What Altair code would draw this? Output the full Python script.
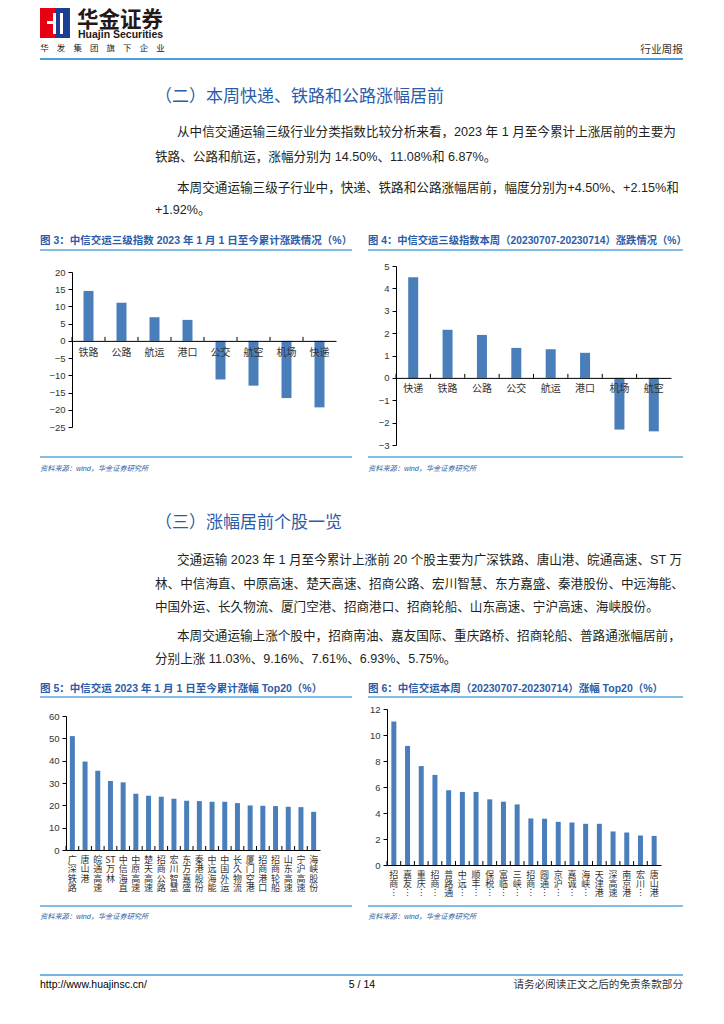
import altair as alt
import pandas as pd

# ---------------- data ----------------
cat3 = ['铁路', '公路', '航运', '港口', '公交', '航空', '机场', '快递']
val3 = [14.50, 11.08, 6.87, 6.10, -11.20, -13.00, -16.60, -19.30]

cat4 = ['快递', '铁路', '公路', '公交', '航运', '港口', '机场', '航空']
val4 = [4.50, 2.15, 1.92, 1.34, 1.28, 1.12, -2.31, -2.39]

names5 = ['广深铁路', '唐山港', '皖通高速', 'ST万林', '中信海直', '中原高速', '楚天高速',
          '招商公路', '宏川智慧', '东方嘉盛', '秦港股份', '中远海能', '中国外运', '长久物流',
          '厦门空港', '招商港口', '招商轮船', '山东高速', '宁沪高速', '海峡股份']
val5 = [51.0, 39.6, 35.5, 30.9, 30.3, 25.2, 24.3, 23.85, 22.95, 22.05, 21.9, 21.6, 21.6,
        21.0, 19.95, 19.8, 19.65, 19.35, 19.2, 17.1]

names6 = ['招商南油', '嘉友国际', '重庆路桥', '招商轮船', '普路通', '中远海特', '顺丰控股',
          '保税科技', '富临运业', '三峡旅游', '招商港口', '圆通速递', '京沪高铁', '嘉诚国际',
          '海峡股份', '天津港', '深高速', '南京港', '宏川智慧', '唐山港']
val6 = [11.03, 9.16, 7.61, 6.93, 5.75, 5.62, 5.62, 5.05, 4.87, 4.66, 3.58, 3.56, 3.32, 3.27,
        3.17, 3.17, 2.58, 2.50, 2.27, 2.24]

ticks3 = [-25, -20, -15, -10, -5, 0, 5, 10, 15, 20]
ticks4 = [-3, -2, -1, 0, 1, 2, 3, 4, 5]
ticks5 = [0, 10, 20, 30, 40, 50, 60]
ticks6 = [0, 2, 4, 6, 8, 10, 12]

brand_cn = '华金证券'
brand_en = 'Huajin Securities'
brand_sub = list('华发集团旗下企业')
report_type = '行业周报'
sec2 = '（二）本周快递、铁路和公路涨幅居前'
sec3 = '（三）涨幅居前个股一览'
para1 = ['从中信交通运输三级行业分类指数比较分析来看，2023 年 1 月至今累计上涨居前的主要为',
         '铁路、公路和航运，涨幅分别为 14.50%、11.08%和 6.87%。',
         '本周交通运输三级子行业中，快递、铁路和公路涨幅居前，幅度分别为+4.50%、+2.15%和',
         '+1.92%。']
para2 = ['交通运输 2023 年 1 月至今累计上涨前 20 个股主要为广深铁路、唐山港、皖通高速、ST 万',
         '林、中信海直、中原高速、楚天高速、招商公路、宏川智慧、东方嘉盛、秦港股份、中远海能、',
         '中国外运、长久物流、厦门空港、招商港口、招商轮船、山东高速、宁沪高速、海峡股份。',
         '本周交通运输上涨个股中，招商南油、嘉友国际、重庆路桥、招商轮船、普路通涨幅居前，',
         '分别上涨 11.03%、9.16%、7.61%、6.93%、5.75%。']
title3 = '图 3：中信交运三级指数 2023 年 1 月 1 日至今累计涨跌情况（%）'
title4 = '图 4：中信交运三级指数本周（20230707-20230714）涨跌情况（%）'
title5 = '图 5：中信交运 2023 年 1 月 1 日至今累计涨幅 Top20（%）'
title6 = '图 6：中信交运本周（20230707-20230714）涨幅 Top20（%）'
source = '资料来源：wind，华金证券研究所'
footer_url = 'http://www.huajinsc.cn/'
footer_page = '5 / 14'
footer_note = '请务必阅读正文之后的免责条款部分'

# ---------------- style ----------------
CJK = "'Liberation Sans', 'Noto Sans CJK SC', sans-serif"
CJKONLY = "'Noto Sans CJK SC', sans-serif"
NUM = "'Liberation Sans', Arial, sans-serif"
NARROW = "'Liberation Sans Narrow', 'Liberation Sans', sans-serif"
BLUE_T = '#2b5ca8'
LINE = '#5aa6dc'
BAR = '#4a7ebb'
BODY = '#231f20'
W, H = 708, 1008
ONE = pd.DataFrame({'k': [0]})


# all page coordinates below are given in the reference page's pixels (8px margin)
def txt(s, x, y, size, color=BODY, align='left', font=CJK, weight='normal',
        style='normal'):
    return alt.Chart(ONE).mark_text(
        text=s, align=align, baseline='middle', fontSize=size, color=color, font=font,
        fontWeight=weight, fontStyle=style
    ).encode(x=alt.value(x - 8), y=alt.value(y - 8))


def hline(x0, x1, y, color=LINE, w=1.5):
    return alt.Chart(ONE).mark_rule(color=color, strokeWidth=w).encode(
        x=alt.value(x0 - 8), x2=alt.value(x1 - 8), y=alt.value(y - 8))


def box(x0, x1, y0, y1, color):
    return alt.Chart(ONE).mark_rect(color=color).encode(
        x=alt.value(x0 - 8), x2=alt.value(x1 - 8), y=alt.value(y0 - 8), y2=alt.value(y1 - 8))


sub_df = pd.DataFrame({'ch': brand_sub, 'i': list(range(len(brand_sub)))})
sub_layer = alt.Chart(sub_df).mark_text(
    fontSize=8.5, color='#231815', font=CJKONLY, baseline='middle'
).encode(
    x=alt.X('i:Q', scale=alt.Scale(domain=[0, len(brand_sub) - 1], range=[44.5 - 8, 160.5 - 8]),
            axis=None),
    y=alt.value(48 - 8),
    text='ch:N')

decor = [
    box(40, 55, 8, 38, '#e60012'),
    box(55, 70, 8, 38, '#1b3f93'),
    box(53, 56, 13, 34, '#ffffff'),
    box(47, 56, 21, 24, '#ffffff'),
    box(60, 63, 13, 34, '#ffffff'),
    txt(brand_cn, 77, 20.5, 21.5, color='#231815', weight='bold', font=CJKONLY),
    txt(brand_en, 78, 35, 10.5, color='#231815', weight='bold', font=NUM),
    sub_layer,
    txt(report_type, 683, 50, 10.7, color='#333333', align='right', font=CJKONLY),
    hline(40, 683, 59, color='#4b9fdb', w=2),
    txt(sec2, 155, 97, 17, color=BLUE_T),
    txt(para1[0], 177, 132, 12.6),
    txt(para1[1], 155, 157, 12.6),
    txt(para1[2], 177, 188, 12.6),
    txt(para1[3], 155, 210, 12.6),
    txt(title3, 40, 241, 10.5, color=BLUE_T, weight='bold'),
    txt(title4, 368, 241, 10.3, color=BLUE_T, weight='bold'),
    hline(40, 352, 250),
    hline(368, 683, 250),
    hline(40, 352, 457),
    hline(368, 683, 457),
    txt(source, 40, 469, 7.2, color=BLUE_T, style='italic'),
    txt(source, 368, 469, 7.2, color=BLUE_T, style='italic'),
    txt(sec3, 155, 523, 17, color=BLUE_T),
    txt(para2[0], 177, 560, 12.6),
    txt(para2[1], 155, 584, 12.6),
    txt(para2[2], 155, 607, 12.6),
    txt(para2[3], 177, 636, 12.6),
    txt(para2[4], 155, 659, 12.6),
    txt(title5, 40, 689, 10.5, color=BLUE_T, weight='bold'),
    txt(title6, 368, 689, 10.5, color=BLUE_T, weight='bold'),
    hline(40, 352, 697),
    hline(368, 683, 697),
    hline(40, 352, 906),
    hline(368, 683, 906),
    txt(source, 40, 917, 7.2, color=BLUE_T, style='italic'),
    txt(source, 368, 917, 7.2, color=BLUE_T, style='italic'),
    hline(40, 683, 975, color='#4b9fdb', w=1.5),
    txt(footer_url, 40, 985, 10.5, color='#000000', font=NARROW),
    txt(footer_page, 362, 985, 10.5, color='#000000', align='center', font=NARROW),
    txt(footer_note, 683, 985, 10.6, color='#333333', align='right', font=CJKONLY),
]


# ---------------- bar chart builder (pixel ranges on the page) ----------------
def bars(cats, vals, px0, px1, py_lo, py_hi, lo, hi, tvals, barw, lab_size, lab_pad,
         lab_expr=None, line_h=None):
    df = pd.DataFrame({'cat': cats, 'val': vals})
    x0, x1 = px0 - 8, px1 - 8
    ylo, yhi = py_lo - 8, py_hi - 8
    step = (x1 - x0) / len(cats)
    zero_y = ylo + (yhi - ylo) * (0 - lo) / (hi - lo)
    ax_kw = dict(title=None, orient='bottom', offset=-(H - zero_y), ticks=False, tickSize=0,
                 labelAngle=0, labelFont=CJKONLY, labelFontSize=lab_size,
                 labelColor='#333333', labelPadding=lab_pad, domainColor='#000000',
                 domainWidth=1, labelBaseline='top', zindex=1, labelOverlap=False)
    if lab_expr is not None:
        ax_kw['labelExpr'] = lab_expr
        ax_kw['labelLineHeight'] = line_h
    x = alt.X('cat:N', sort=None,
              scale=alt.Scale(paddingInner=0, paddingOuter=0, range=[x0, x1]),
              axis=alt.Axis(**ax_kw))
    y = alt.Y('val:Q', scale=alt.Scale(domain=[lo, hi], nice=False, range=[ylo, yhi]),
              axis=alt.Axis(title=None, orient='left', offset=-x0, values=tvals, format='d',
                            grid=False, tickSize=4, tickColor='#000000',
                            domainColor='#000000', labelFont=NUM, labelFontSize=9.5,
                            labelColor='#333333', labelPadding=3, zindex=1))
    b = alt.Chart(df).mark_bar(size=barw, color=BAR).encode(x=x, y=y)
    tk = alt.Chart(df).mark_rule(color='#000000', strokeWidth=1, xOffset=-step / 2,
                                 y2Offset=-4).encode(
        x=alt.X('cat:N', sort=None), y=alt.datum(0), y2=alt.datum(0))
    return alt.layer(b, tk)


ch3 = bars(cat3, val3, 72, 336, 427, 272, -25, 20, ticks3, 10, 10, 7)
ch4 = bars(cat4, val4, 396, 671, 445, 266, -3, 5, ticks4, 10, 10, 6)

expr5 = "datum.label == 'ST万林' ? ['ST', '万', '林'] : split(datum.label, '')"
expr6 = ("length(datum.label) > 3 ? [substring(datum.label, 0, 1), "
         "substring(datum.label, 1, 2), '︙'] : split(datum.label, '')")
ch5 = bars(names5, val5, 66, 320, 850, 716, 0, 60, ticks5, 5, 9, 5, expr5, 9.6)
ch6 = bars(names6, val6, 387, 661, 865, 709, 0, 12, ticks6, 5, 9, 5, expr6, 9.4)

chart = alt.layer(*decor, ch3, ch4, ch5, ch6).resolve_scale(
    x='independent', y='independent'
).resolve_axis(
    x='independent', y='independent'
).properties(
    width=W, height=H, padding=0, background='#ffffff'
).configure_view(strokeWidth=0)

chart.save('out.html', embed_options={'renderer': 'svg', 'actions': False})
